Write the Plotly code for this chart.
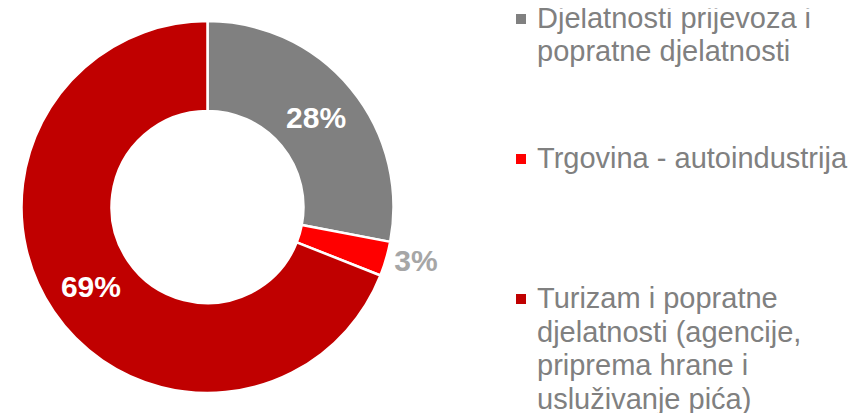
import plotly.graph_objects as go

# ---- data ----
categories = [
    "Djelatnosti prijevoza i<br>popratne djelatnosti",
    "Trgovina - autoindustrija",
    "Turizam i popratne<br>djelatnosti (agencije,<br>priprema hrane i<br>usluživanje pića)",
]
values = [28, 3, 69]
colors = ["#808080", "#FF0000", "#C00000"]
label_colors = ["#FFFFFF", "#A6A6A6", "#FFFFFF"]
text_positions = ["inside", "outside", "inside"]

# ---- layout constants (page body has an 8px margin) ----
OFF = 8
W, H = 856 - OFF, 413 - OFF
cx, cy, R = 207.5 - OFF, 207.0 - OFF, 186.0
FONT = "Liberation Sans, Arial, Helvetica, sans-serif"
legend_color = "#808080"
legend_font_size = 29
legend_first_line_y = [18 - OFF, 158 - OFF, 298 - OFF]
legend_line_step = 33.5
legend_square_x = 521 - OFF
legend_text_x = 535 - OFF
square_half = 5

fig = go.Figure(
    go.Pie(
        labels=categories,
        values=values,
        sort=False,
        direction="clockwise",
        rotation=0,
        hole=0.516,
        marker=dict(colors=colors, line=dict(color="white", width=2.5)),
        texttemplate="%{percent:.0%}",
        textposition=text_positions,
        insidetextorientation="horizontal",
        textfont=dict(family=FONT, size=30, color=label_colors, weight="bold"),
        domain=dict(x=[(cx - R) / W, (cx + R) / W], y=[(H - cy - R) / H, (H - cy + R) / H]),
        showlegend=False,
        hoverinfo="label+percent",
    )
)

shapes = []
annotations = []
for cat, col, y0 in zip(categories, colors, legend_first_line_y):
    shapes.append(dict(
        type="rect", xref="paper", yref="paper",
        x0=(legend_square_x - square_half) / W, x1=(legend_square_x + square_half) / W,
        y0=1 - (y0 + 1 + square_half) / H, y1=1 - (y0 + 1 - square_half) / H,
        fillcolor=col, line=dict(width=0),
    ))
    for i, line in enumerate(cat.split("<br>")):
        yy = y0 + i * legend_line_step
        annotations.append(dict(
            text=line, xref="paper", yref="paper",
            x=legend_text_x / W, y=1 - yy / H,
            xanchor="left", yanchor="middle", showarrow=False,
            font=dict(family=FONT, size=legend_font_size, color=legend_color),
        ))

fig.update_layout(
    width=W, height=H,
    margin=dict(l=0, r=0, t=0, b=0),
    paper_bgcolor="white", plot_bgcolor="white",
    shapes=shapes, annotations=annotations,
    showlegend=False,
)

fig.write_html("out.html")
